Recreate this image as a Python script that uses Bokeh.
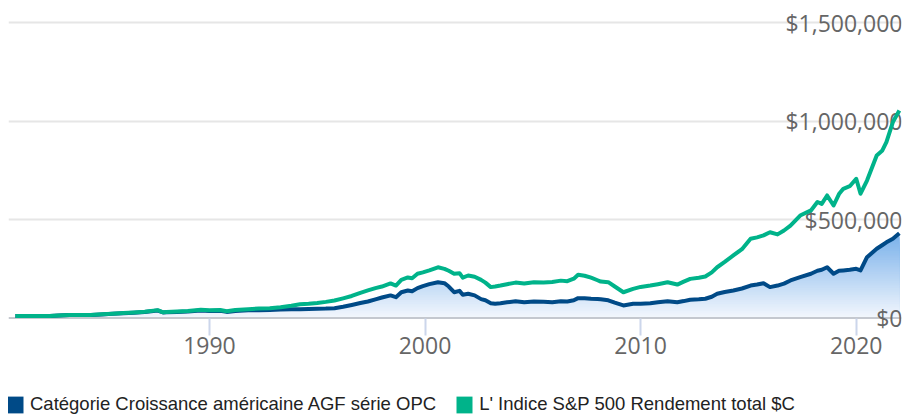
import numpy as np
from bokeh.plotting import figure
from bokeh.layouts import column
from bokeh.models import (Range1d, FixedTicker, ColumnDataSource, LabelSet,
                          Legend, LegendItem, Span)
from bokeh.core.properties import value
from bokeh.embed import file_html
from bokeh.resources import INLINE

# ---------------- data ----------------
years = [
    1981.0, 1981.5, 1982.0, 1982.6, 1983.0, 1983.5, 1984.0, 1984.5, 1985.0, 1985.5, 1986.0, 1986.5, 1987.0, 1987.6, 1987.85,
    1988.0, 1988.5, 1989.0, 1989.6, 1990.0, 1990.5, 1990.8, 1991.2, 1991.8, 1992.3, 1992.8, 1993.3, 1993.8, 1994.2, 1994.6,
    1995.0, 1995.4, 1995.8, 1996.2, 1996.6, 1997.0, 1997.35, 1997.7, 1998.0, 1998.4, 1998.65, 1998.9, 1999.2, 1999.4, 1999.65, 1999.9,
    2000.2, 2000.6, 2000.9, 2001.1, 2001.35, 2001.6, 2001.75, 2002.0, 2002.3, 2002.6, 2002.8, 2003.05, 2003.25, 2003.5, 2003.8, 2004.2, 2004.6,
    2005.05, 2005.5, 2005.9, 2006.3, 2006.6, 2006.9, 2007.1, 2007.4, 2007.7, 2008.0, 2008.15, 2008.5, 2008.8, 2009.2, 2009.65, 2010.0, 2010.45, 2010.8, 2011.25, 2011.7,
    2012.0, 2012.3, 2012.7, 2013.0, 2013.3, 2013.55, 2013.9, 2014.3, 2014.7, 2015.1, 2015.4, 2015.7, 2016.0, 2016.35, 2016.65, 2016.95, 2017.4, 2017.9,
    2018.2, 2018.4, 2018.65, 2018.95, 2019.2, 2019.4, 2019.7, 2020.0, 2020.2, 2020.5, 2020.95, 2021.2, 2021.4, 2021.7, 2022.0,
]

fund = [
    10000, 10500, 9600, 9800, 13000, 15000, 14800, 15200, 18000, 21000, 24000, 27000, 31000, 38000, 28000,
    29000, 31000, 33000, 38000, 36000, 37000, 31000, 36000, 39000, 40000, 41000, 43000, 44000, 45000, 46000,
    47000, 48000, 50000, 57000, 66000, 76000, 84000, 95000, 104000, 115000, 106000, 131000, 140000, 136000, 152000, 162000,
    172000, 182000, 177000, 160000, 131000, 138000, 118000, 123000, 115000, 96000, 90000, 75000, 73000, 75000, 80000, 85000, 80000,
    84000, 82000, 80000, 85000, 84000, 90000, 101000, 100000, 98000, 97000, 95000, 90000, 78000, 64000, 72000, 73000, 75000, 80000, 85000, 80000,
    86000, 93000, 95000, 98000, 108000, 123000, 132000, 140000, 150000, 165000, 170000, 177000, 157000, 165000, 175000, 191000, 208000, 225000,
    240000, 245000, 258000, 225000, 240000, 242000, 245000, 250000, 242000, 309000, 352000, 370000, 385000, 403000, 431000,
]

sp500 = [
    10000, 10500, 9600, 10200, 13200, 15200, 15000, 15800, 19000, 22000, 25000, 28000, 32000, 40000, 29000,
    30000, 33000, 36000, 42000, 40000, 41000, 34000, 41000, 45000, 48000, 50000, 55000, 62000, 70000, 72000,
    76000, 82000, 89000, 100000, 112000, 128000, 140000, 152000, 160000, 176000, 165000, 194000, 206000, 202000, 225000, 232000,
    242000, 258000, 250000, 240000, 225000, 228000, 205000, 216000, 210000, 194000, 180000, 157000, 160000, 165000, 172000, 180000, 175000,
    182000, 180000, 183000, 190000, 187000, 200000, 220000, 215000, 205000, 192000, 185000, 182000, 160000, 131000, 148000, 158000, 165000, 172000, 182000, 170000,
    185000, 199000, 205000, 211000, 232000, 258000, 285000, 318000, 350000, 403000, 410000, 420000, 436000, 425000, 445000, 470000, 521000, 547000,
    590000, 580000, 623000, 572000, 630000, 657000, 670000, 708000, 632000, 699000, 826000, 850000, 894000, 996000, 1055000,
]

series_names = ["Catégorie Croissance américaine AGF série OPC",
                "L' Indice S&P 500 Rendement total $C"]
x_ticks = [1990, 2000, 2010, 2020]
y_ticks = [0, 500000, 1000000, 1500000]
y_tick_labels = ["$0", "$500,000", "$1,000,000", "$1,500,000"]

# ---------------- styling ----------------
BLUE = "#004a87"
GREEN = "#00b38a"
X_START, X_END = 1980.68, 2022.1
Y_START, Y_END = -53400, 1614400

p = figure(width=906, height=372, output_backend="svg", toolbar_location=None,
           x_range=Range1d(X_START, X_END), y_range=Range1d(Y_START, Y_END),
           y_axis_location=None,
           min_border_left=8, min_border_right=5, min_border_top=0, min_border_bottom=44)
p.outline_line_color = None
p.background_fill_color = "white"
p.border_fill_color = "white"

p.xgrid.visible = False
p.ygrid.ticker = FixedTicker(ticks=y_ticks[1:])
p.ygrid.grid_line_color = "#e6e6e6"
p.ygrid.grid_line_width = 2

ax = p.xaxis[0]
ax.ticker = FixedTicker(ticks=x_ticks)
ax.major_tick_in = 10
ax.major_tick_out = 7
ax.minor_tick_line_color = None
ax.major_tick_line_color = "#ccd6eb"
ax.major_tick_line_width = 2
ax.axis_line_color = None
ax.major_label_text_font = "Open Sans"
ax.major_label_text_font_size = "23px"
ax.major_label_text_color = "#666666"
ax.major_label_standoff = 1

# gradient area under the fund line (stacked layers, darkest at the top)
blue_arr = np.array(fund, dtype=float)
top = blue_arr.max()
N = 48
c_top = np.array([120, 176, 234])
c_bot = np.array([243, 247, 253])
for k in reversed(range(N)):
    hi = top * (k + 1) / N
    t = (k + 0.5) / N
    c = (c_bot + (c_top - c_bot) * t).round().astype(int)
    col = "#%02x%02x%02x" % tuple(c)
    p.varea(x=years, y1=y_ticks[0], y2=np.minimum(blue_arr, hi), fill_color=col,
            fill_alpha=1.0, level="underlay")

# baseline ($0)
p.add_layout(Span(location=y_ticks[0], dimension="width", line_color="#c4c8cf",
                  line_width=2, level="underlay"))

r_fund = p.line(years, fund, line_color=BLUE, line_width=4, line_join="round")
r_sp = p.line(years, sp500, line_color=GREEN, line_width=4, line_join="round")

# y tick labels drawn inside the plot on the right edge
lab_src = ColumnDataSource(dict(x=[X_END] * len(y_ticks), y=y_ticks, text=y_tick_labels))
labels = LabelSet(x="x", y="y", text="text", source=lab_src, text_align="right",
                  text_baseline="middle", x_offset=1,
                  text_font=value("Open Sans"), text_font_size="23px",
                  text_color="#666666", level="underlay")
p.add_layout(labels)

# ---------------- legend strip (separate small figure) ----------------
lg = figure(width=906, height=46, output_backend="svg", toolbar_location=None,
            x_axis_location=None, y_axis_location=None,
            min_border_left=0, min_border_right=0, min_border_top=0, min_border_bottom=0)
lg.outline_line_color = None
lg.xgrid.visible = False
lg.ygrid.visible = False
# zero-height areas: invisible, used only for the legend swatches
sw1 = lg.varea(x=years, y1=fund, y2=fund, fill_color=BLUE)
sw2 = lg.varea(x=years, y1=sp500, y2=sp500, fill_color=GREEN)
legend = Legend(items=[LegendItem(label=series_names[0], renderers=[sw1]),
                       LegendItem(label=series_names[1], renderers=[sw2])],
                location=(-3, 3), orientation="horizontal",
                glyph_width=20, glyph_height=21, label_height=21,
                label_standoff=5, spacing=18, padding=0, margin=0,
                border_line_color=None, background_fill_alpha=0,
                label_text_font="Liberation Sans", label_text_font_size="18.5px",
                label_text_color="#222222")
lg.add_layout(legend)

layout = column(p, lg, spacing=0)
open("out.html", "w").write(file_html(layout, INLINE))
